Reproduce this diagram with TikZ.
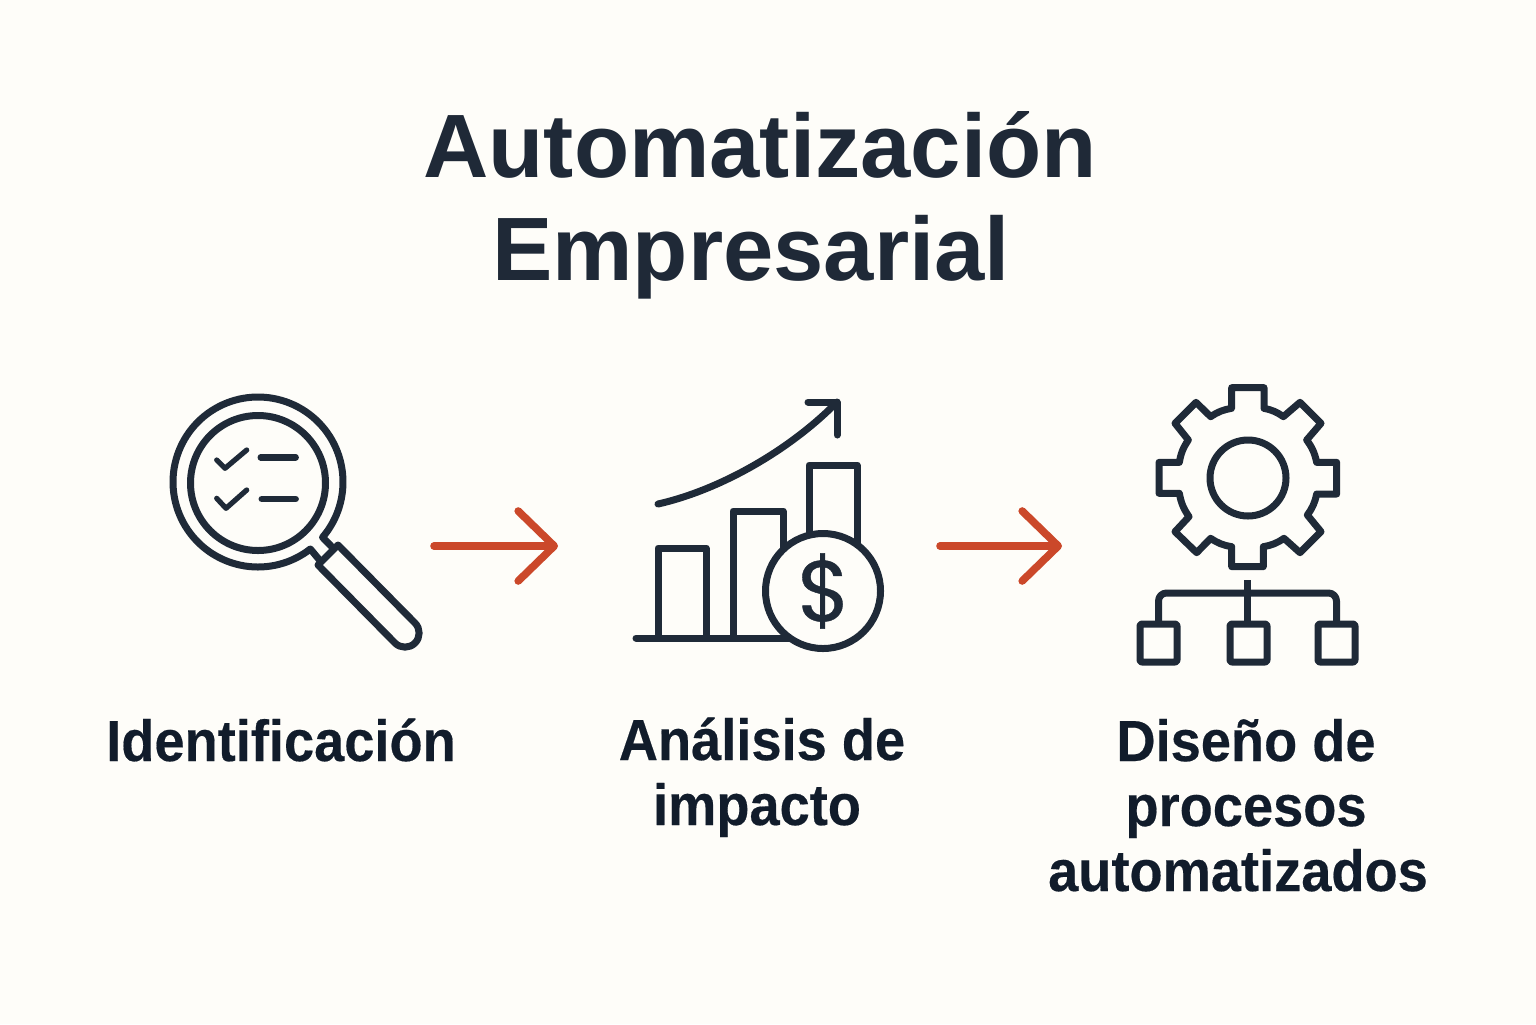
\documentclass[tikz,border=0pt]{standalone}
\usepackage{fontspec}
\setmainfont{Liberation Sans}
\newfontfamily\labelfont[FakeStretch=0.935,FakeBold=0.3]{Liberation Sans}
\newfontfamily\titlefont[FakeStretch=1.005]{Liberation Sans}
\newfontfamily\dollarfont[FakeBold=0.5]{Poppins}
\usetikzlibrary{arrows.meta}
\definecolor{bgc}{HTML}{FEFDF9}
\definecolor{ink}{HTML}{1F2A38}
\definecolor{titlec}{HTML}{1F2937}
\definecolor{labelc}{HTML}{111C2B}
\definecolor{redc}{HTML}{CB482A}
\tikzset{
  icon/.style={draw=ink,line width=3.5pt,line join=round,line cap=round},
  thin icon/.style={icon,line width=2.6pt},
  flowarrow/.style={draw=redc,line width=3.8pt,line cap=round,-{Straight Barb[length=18pt,width=35pt,line width=3.8pt,round]}},
  titletext/.style={text=titlec,font=\titlefont\bfseries\fontsize{45}{51.5}\selectfont,align=center,inner sep=0pt,outer sep=0pt,anchor=base},
  labeltext/.style={text=labelc,font=\labelfont\bfseries\fontsize{29}{32.5}\selectfont,align=center,inner sep=0pt,outer sep=0pt,anchor=base},
  treebox/.style={icon,rectangle,rounded corners=1pt,minimum width=18.5pt,minimum height=19pt,inner sep=0pt,outer sep=0pt},
}
\begin{document}
\begin{tikzpicture}[x=0.5pt,y=-0.5pt]
\path[use as bounding box,fill=bgc] (0,0) rectangle (1536,1024);

% title
\node[titletext] (title) at (760,280) {Automatización\\Empresarial\kern9pt};

% magnifier
\draw[icon,line cap=butt] (322,563) -- plot[domain=52:400.6,samples=120] ({258+85*cos(\x)},{482+85*sin(\x)}) -- (334,549);
\draw[icon] (258,483) circle[radius=67.5];
\draw[icon] (318,565) -- (338,545) -- (415,623)
  .. controls (420.5,628.5) and (420.5,637.5) .. (415,643)
  .. controls (409.5,648.5) and (400.5,648.5) .. (395,643) -- cycle;
\draw[thin icon] (216.7,460) -- (225,468.3) -- (246.7,450);
\draw[thin icon] (216.7,498.3) -- (226,508.3) -- (246.7,490);
\draw[icon,line width=3.2pt] (260.7,457.3) -- (295.7,457.3);
\draw[icon,line width=3.2pt] (261.7,499) -- (295.7,499);

% chart
\draw[icon] (636,638) -- (800,638);
\draw[icon] (658,638) -- (658,548) -- (706,548) -- (706,638);
\draw[icon] (733,638) -- (733,511) -- (783,511) -- (783,560);
\draw[icon] (809,550) -- (809,465) -- (857,465) -- (857,550);
\draw[icon] (658,504) .. controls (720,490) and (790,450) .. (837,402);
\draw[icon] (808,402) -- (837,402) -- (837,435);
\draw[icon,fill=bgc] (823,591) circle[radius=57.5];
\node[text=ink,font=\dollarfont\fontsize{43}{43}\selectfont,inner sep=0pt] (dollar) at (824,591) {\$};

% gear
\begin{scope}[shift={(1120,375)},scale=1/3]
\draw[icon] (335,100) -- (335,38) -- (432,38) -- (432,100)
  to[bend left=12] (490,125) -- (540,82) -- (603,145) -- (560,195)
  to[bend left=12] (590,262) -- (650,262) -- (650,357) -- (590,357)
  to[bend left=12] (562,420) -- (603,470) -- (540,533) -- (492,490)
  to[bend left=12] (430,515) -- (430,575) -- (335,575) -- (335,515)
  to[bend left=12] (272,490) -- (230,533) -- (165,470) -- (207,425)
  to[bend left=12] (178,355) -- (117,355) -- (117,262) -- (178,262)
  to[bend left=12] (205,195) -- (165,145) -- (228,82) -- (272,125)
  to[bend left=12] cycle;
\end{scope}
\draw[icon] (1248,478) circle[radius=38];

% tree
\node[treebox] (b1) at (1158.5,643) {};
\node[treebox] (b2) at (1248.5,643) {};
\node[treebox] (b3) at (1336.5,643) {};
\coordinate (treetop) at (1247,580);
\coordinate (treebar) at (1247,593);
\draw[icon,line cap=butt] (treetop) -- (treetop |- b2.north);
\draw[icon,line cap=butt,rounded corners=4pt] (b1.north) |- (treebar) -| (b3.north);

% arrows
\coordinate (a1s) at (434,546);
\coordinate (a1e) at (558,546);
\coordinate (a2s) at (940,546);
\coordinate (a2e) at (1062,546);
\draw[flowarrow] (a1s) -- (a1e);
\draw[flowarrow] (a2s) -- (a2e);

% labels
\node[labeltext] (l1) at (281,761) {Identificación};
\node[labeltext] (l2) at (762,825) {Análisis de\\impacto\kern5pt};
\node[labeltext] (l3) at (1246,891) {Diseño de\\procesos\\automatizados\kern8pt};
\end{tikzpicture}
\end{document}
